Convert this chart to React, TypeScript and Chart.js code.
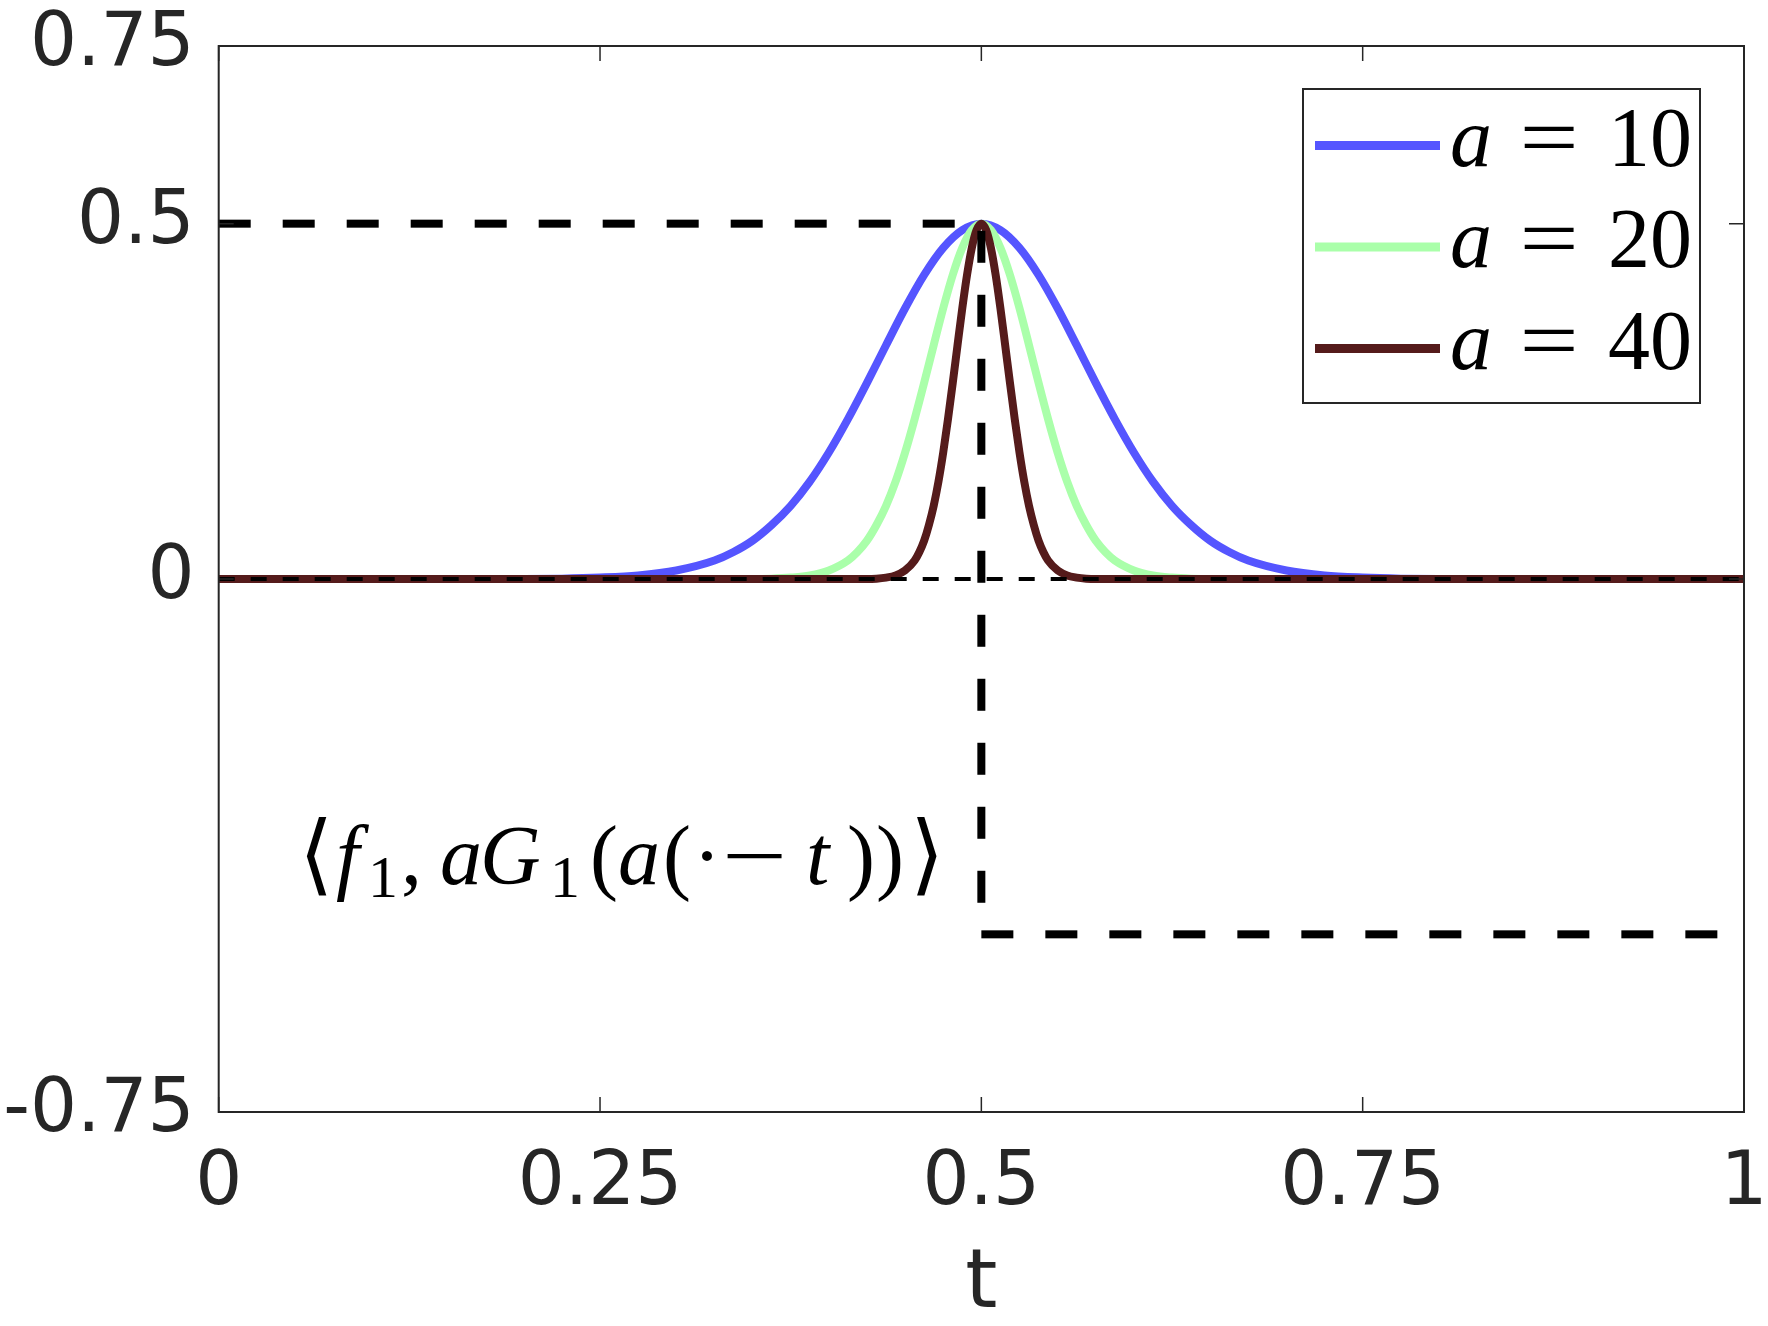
import { useEffect, useRef } from 'react';
import { Chart, registerables } from 'chart.js';

Chart.register(...registerables);

// ---- data ----
const tA10 = [0, 0.1, 0.2, 0.225, 0.25, 0.275, 0.3, 0.325, 0.3375, 0.35, 0.3625, 0.375, 0.3875, 0.4, 0.4125, 0.425, 0.4375, 0.45, 0.4625, 0.475, 0.4875, 0.5, 0.5125, 0.525, 0.5375, 0.55, 0.5625, 0.575, 0.5875, 0.6, 0.6125, 0.625, 0.6375, 0.65, 0.6625, 0.675, 0.7, 0.725, 0.75, 0.775, 0.8, 0.9, 1];
const yA10 = [0, 0, 0, 0.0005, 0.002, 0.005, 0.012, 0.026, 0.038, 0.054, 0.076, 0.103, 0.137, 0.178, 0.225, 0.276, 0.329, 0.381, 0.428, 0.466, 0.491, 0.5, 0.491, 0.466, 0.428, 0.381, 0.329, 0.276, 0.225, 0.178, 0.137, 0.103, 0.076, 0.054, 0.038, 0.026, 0.012, 0.005, 0.002, 0.0005, 0, 0, 0];

const tA20 = [0, 0.3, 0.35, 0.3625, 0.375, 0.3875, 0.4, 0.4125, 0.41875, 0.425, 0.43125, 0.4375, 0.44375, 0.45, 0.45625, 0.4625, 0.46875, 0.475, 0.48125, 0.4875, 0.49375, 0.5, 0.50625, 0.5125, 0.51875, 0.525, 0.53125, 0.5375, 0.54375, 0.55, 0.55625, 0.5625, 0.56875, 0.575, 0.58125, 0.5875, 0.6, 0.6125, 0.625, 0.6375, 0.65, 0.7, 1];
const yA20 = [0, 0, 0, 0.0005, 0.002, 0.005, 0.012, 0.026, 0.038, 0.054, 0.076, 0.103, 0.137, 0.178, 0.225, 0.276, 0.329, 0.381, 0.428, 0.466, 0.491, 0.5, 0.491, 0.466, 0.428, 0.381, 0.329, 0.276, 0.225, 0.178, 0.137, 0.103, 0.076, 0.054, 0.038, 0.026, 0.012, 0.005, 0.002, 0.0005, 0, 0, 0];

const tA40 = [0, 0.4, 0.425, 0.43125, 0.4375, 0.44375, 0.45, 0.45625, 0.459375, 0.4625, 0.465625, 0.46875, 0.471875, 0.475, 0.478125, 0.48125, 0.484375, 0.4875, 0.490625, 0.49375, 0.496875, 0.5, 0.503125, 0.50625, 0.509375, 0.5125, 0.515625, 0.51875, 0.521875, 0.525, 0.528125, 0.53125, 0.534375, 0.5375, 0.540625, 0.54375, 0.55, 0.55625, 0.5625, 0.56875, 0.575, 0.6, 1];
const yA40 = [0, 0, 0, 0.0005, 0.002, 0.005, 0.012, 0.026, 0.038, 0.054, 0.076, 0.103, 0.137, 0.178, 0.225, 0.276, 0.329, 0.381, 0.428, 0.466, 0.491, 0.5, 0.491, 0.466, 0.428, 0.381, 0.329, 0.276, 0.225, 0.178, 0.137, 0.103, 0.076, 0.054, 0.038, 0.026, 0.012, 0.005, 0.002, 0.0005, 0, 0, 0];

const aValues = ['10', '20', '40'];
const seriesColors = ['#5555ff', '#aaffaa', '#551b1b'];

// guide lines
const upperGuideX = [0, 0.5];
const upperGuideY = [0.5, 0.5];
const vertGuideX = [0.5, 0.5];
const vertGuideY = [0.49, -0.5];
const lowerGuideX = [0.5, 1];
const lowerGuideY = [-0.5, -0.5];
const zeroLineX = [0, 1];
const zeroLineY = [0, 0];

const xTicks = [0, 0.25, 0.5, 0.75, 1];
const xTickLabels = ['0', '0.25', '0.5', '0.75', '1'];
const yTicks = [-0.75, 0, 0.5, 0.75];
const yTickLabels = ['-0.75', '0', '0.5', '0.75'];
const xTitle = 't';

const annotX = 0.0546;
const annotY = -0.429;

const pts = (xs: number[], ys: number[]) => xs.map((x, i) => ({ x, y: ys[i] }));

const AXIS = '#262626';
const SERIF = '"Liberation Serif", "DejaVu Serif", serif';

const drawStretched = (ctx: any, txt: string, x: number, y: number, sx: number) => {
  ctx.save();
  ctx.translate(x, y);
  ctx.scale(sx, 1);
  ctx.fillText(txt, 0, 0);
  ctx.restore();
};

const overlay = {
  id: 'overlay',
  afterDraw(chart: any) {
    const { ctx, chartArea } = chart;
    const { left, top, right, bottom } = chartArea;
    const xs = chart.scales.x;
    const ys = chart.scales.y;
    ctx.save();
    // box
    ctx.strokeStyle = AXIS;
    ctx.lineWidth = 2;
    ctx.strokeRect(left, top, right - left, bottom - top);
    // ticks (inside)
    ctx.lineWidth = 1.5;
    ctx.beginPath();
    xTicks.forEach((v) => {
      const p = xs.getPixelForValue(v);
      ctx.moveTo(p, bottom); ctx.lineTo(p, bottom - 15);
      ctx.moveTo(p, top); ctx.lineTo(p, top + 15);
    });
    yTicks.forEach((v) => {
      const p = ys.getPixelForValue(v);
      ctx.moveTo(left, p); ctx.lineTo(left + 15, p);
      ctx.moveTo(right, p); ctx.lineTo(right - 15, p);
    });
    ctx.stroke();

    // x title
    ctx.fillStyle = AXIS;
    ctx.font = '82px "DejaVu Sans"';
    ctx.textAlign = 'center';
    ctx.textBaseline = 'alphabetic';
    ctx.fillText(xTitle, (left + right) / 2, 1307);

    // legend
    const lx = 1303, ly = 89, lw = 397, lh = 314;
    ctx.fillStyle = '#ffffff';
    ctx.fillRect(lx, ly, lw, lh);
    ctx.strokeStyle = AXIS;
    ctx.lineWidth = 2;
    ctx.strokeRect(lx, ly, lw, lh);
    const lineYs = [145.5, 247, 348.5];
    const baseYs = [166, 267, 369];
    aValues.forEach((val, i) => {
      ctx.strokeStyle = seriesColors[i];
      ctx.lineWidth = 9;
      ctx.beginPath();
      ctx.moveTo(1315, lineYs[i]);
      ctx.lineTo(1440, lineYs[i]);
      ctx.stroke();
      ctx.fillStyle = '#000000';
      ctx.textBaseline = 'alphabetic';
      ctx.textAlign = 'left';
      ctx.font = `italic 84px ${SERIF}`;
      ctx.fillText('a', 1450, baseYs[i]);
      ctx.font = `84px ${SERIF}`;
      ctx.textAlign = 'center';
      drawStretched(ctx, '=', 1549, baseYs[i], 1.25);
      ctx.textAlign = 'left';
      ctx.fillText(val, 1608, baseYs[i]);
    });

    // annotation ⟨f1, aG1(a(·−t))⟩
    const ax = xs.getPixelForValue(annotX);
    const ay = ys.getPixelForValue(annotY);
    // [text, dx, italic, subscript, size, horizontal stretch]
    const pieces: [string, number, boolean, boolean, number, number][] = [
      ['\u27E8', -3, false, false, 88, 1],
      ['f', 34, true, false, 84, 1],
      ['1', 66, false, true, 60, 1],
      [',', 99, false, false, 84, 1],
      ['a', 138, true, false, 84, 1],
      ['G', 178, true, false, 84, 1],
      ['1', 248, false, true, 60, 1],
      ['(', 288, false, false, 84, 1],
      ['a', 316, true, false, 84, 1],
      ['(', 361, false, false, 84, 1],
      ['\u00B7', 391, false, false, 84, 1],
      ['\u2212', 420, false, false, 84, 1.38],
      ['t', 504, true, false, 84, 1],
      [')', 545, false, false, 84, 1],
      [')', 574, false, false, 84, 1],
      ['\u27E9', 608, false, false, 88, 1],
    ];
    ctx.fillStyle = '#000000';
    ctx.textAlign = 'left';
    ctx.textBaseline = 'alphabetic';
    pieces.forEach(([txt, dx, it, sub, size, sx]) => {
      ctx.font = `${it ? 'italic ' : ''}${size}px ${SERIF}`;
      drawStretched(ctx, txt, ax + dx, ay + (sub ? 13 : 0), sx);
    });
    ctx.restore();
  },
};

export default function App() {
  const ref = useRef<HTMLCanvasElement | null>(null);
  useEffect(() => {
    document.body.style.margin = '0';
    if (!ref.current) return;
    const curve = (xs: number[], ys: number[], color: string, order: number) => ({
      data: pts(xs, ys),
      borderColor: color,
      backgroundColor: color,
      borderWidth: 8,
      pointRadius: 0,
      cubicInterpolationMode: 'monotone' as const,
      fill: false,
      order,
      borderCapStyle: 'butt' as const,
      borderJoinStyle: 'round' as const,
    });
    const guide = (xs: number[], ys: number[], w: number, dash: number[], order: number) => ({
      data: pts(xs, ys),
      borderColor: '#000000',
      backgroundColor: '#000000',
      borderWidth: w,
      borderDash: dash,
      pointRadius: 0,
      tension: 0,
      fill: false,
      order,
      borderCapStyle: 'butt' as const,
    });
    const chart = new Chart(ref.current, {
      type: 'line',
      data: {
        datasets: [
          guide(zeroLineX, zeroLineY, 4, [16, 16], 0),
          guide(upperGuideX, upperGuideY, 8, [32, 32], 0),
          guide(vertGuideX, vertGuideY, 8, [32, 32], 0),
          guide(lowerGuideX, lowerGuideY, 8, [32, 32], 0),
          curve(tA40, yA40, seriesColors[2], 1),
          curve(tA20, yA20, seriesColors[1], 2),
          curve(tA10, yA10, seriesColors[0], 3),
        ] as any,
      },
      options: {
        animation: false,
        responsive: false,
        devicePixelRatio: 1,
        events: [],
        layout: { padding: { top: 46, right: 24, bottom: 0, left: 0 } },
        plugins: { legend: { display: false }, tooltip: { enabled: false } },
        scales: {
          x: {
            type: 'linear',
            min: 0,
            max: 1,
            afterBuildTicks: (s: any) => { s.ticks = xTicks.map((v) => ({ value: v })); },
            afterFit: (s: any) => { s.height = 214; s.paddingLeft = 0; s.paddingRight = 0; },
            ticks: {
              callback: (_v: any, i: number) => xTickLabels[i],
              font: { family: 'DejaVu Sans', size: 74 },
              color: AXIS,
              padding: 28,
              maxRotation: 0,
              autoSkip: false,
            },
            grid: { display: false, drawTicks: false, tickLength: 0 },
            border: { display: false },
          },
          y: {
            type: 'linear',
            min: -0.75,
            max: 0.75,
            afterBuildTicks: (s: any) => { s.ticks = yTicks.map((v) => ({ value: v })); },
            afterFit: (s: any) => { s.width = 218.7; s.paddingTop = 0; s.paddingBottom = 0; },
            ticks: {
              callback: (_v: any, i: number) => yTickLabels[i],
              font: { family: 'DejaVu Sans', size: 74 },
              color: AXIS,
              padding: 24,
              autoSkip: false,
            },
            grid: { display: false, drawTicks: false, tickLength: 0 },
            border: { display: false },
          },
        },
      } as any,
      plugins: [overlay],
    });
    return () => chart.destroy();
  }, []);
  return (
    <div style={{ position: 'absolute', left: 0, top: 0, width: 1768, height: 1326, background: '#fff' }}>
      <canvas ref={ref} width={1768} height={1326} style={{ display: 'block' }} />
    </div>
  );
}
